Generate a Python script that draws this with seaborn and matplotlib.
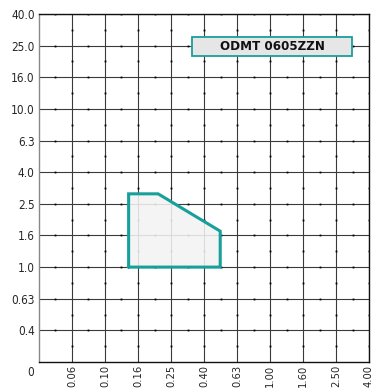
import numpy as np
import matplotlib
matplotlib.use('Agg')
import matplotlib.pyplot as plt
from matplotlib.patches import Rectangle
import seaborn as sns

# axis tick values (evenly spaced on the chart)
x_ticks = [0.06, 0.10, 0.16, 0.25, 0.40, 0.63, 1.00, 1.60, 2.50, 4.00]
x_labels = ['0.06', '0.10', '0.16', '0.25', '0.40', '0.63', '1.00', '1.60', '2.50', '4.00']
y_ticks = [0.4, 0.63, 1.0, 1.6, 2.5, 4.0, 6.3, 10.0, 16.0, 25.0, 40.0]
y_labels = ['0.4', '0.63', '1.0', '1.6', '2.5', '4.0', '6.3', '10.0', '16.0', '25.0', '40.0']

# working area of the insert
poly_x = [0.14, 0.14, 0.21, 0.50, 0.50]
poly_y = [1.0, 2.9, 2.9, 1.7, 1.0]
insert_name = 'ODMT 0605ZZN'

teal = '#17a09b'

sns.set_style('white')
plt.rcParams['font.family'] = ['DejaVu Sans']
plt.rcParams['font.stretch'] = 'condensed'


def make_scale(ticks):
    # origin ("0") one step below the first tick
    origin = ticks[0] ** 2 / ticks[1]
    pts = np.log10([origin] + list(ticks))
    idx = np.arange(len(pts), dtype=float)

    def fwd(v):
        v = np.clip(np.asarray(v, dtype=float), 1e-9, None)
        return np.interp(np.log10(v), pts, idx)

    def inv(p):
        return 10 ** np.interp(np.asarray(p, dtype=float), idx, pts)

    return origin, fwd, inv


x0, xf, xi = make_scale(x_ticks)
y0, yf, yi = make_scale(y_ticks)

fig = plt.figure(figsize=(3.74, 3.88), dpi=100)
ax = fig.add_axes([39 / 374, 1 - 362 / 388, 330 / 374, 348 / 388])
ax.set_xscale('function', functions=(xf, xi))
ax.set_yscale('function', functions=(yf, yi))
ax.set_xlim(x0, x_ticks[-1])
ax.set_ylim(y0, y_ticks[-1])

# grid
for xv in x_ticks:
    ax.axvline(xv, color='#3a3a3a', lw=0.8, zorder=1)
for yv in y_ticks:
    ax.axhline(yv, color='#3a3a3a', lw=0.8, zorder=1)

# small dots halfway between grid lines
xs_all = [x0] + x_ticks
ys_all = [y0] + y_ticks
x_mid = [np.sqrt(a * b) for a, b in zip(xs_all[:-1], xs_all[1:])]
y_mid = [np.sqrt(a * b) for a, b in zip(ys_all[:-1], ys_all[1:])]
dx, dy = [], []
for yv in y_ticks:
    for xm in x_mid:
        dx.append(xm)
        dy.append(yv)
for xv in x_ticks:
    for ym in y_mid:
        dx.append(xv)
        dy.append(ym)
ax.plot(dx, dy, 's', color='black', ms=1.3, mew=0, zorder=2)

# insert area
ax.fill(poly_x, poly_y, facecolor='#f3f3f3', alpha=0.88, edgecolor='none', zorder=3)
sns.lineplot(x=poly_x + poly_x[:1], y=poly_y + poly_y[:1], sort=False, estimator=None,
             color=teal, lw=2.2, ax=ax, zorder=4, solid_joinstyle='miter')

# name box
ax.add_patch(Rectangle((0.4636, 0.879), 0.4849, 0.055, transform=ax.transAxes,
                       facecolor='#e6e6e6', edgecolor=teal, lw=1.3, zorder=5))
ax.text(0.706, 0.9065, insert_name, transform=ax.transAxes, ha='center', va='center',
        fontsize=9.5, fontweight='bold', color='#111111', zorder=6)

ax.set_xticks(x_ticks)
ax.set_xticklabels(x_labels, rotation=90, fontsize=8)
ax.set_yticks(y_ticks)
ax.set_yticklabels(y_labels, fontsize=8.5)
ax.minorticks_off()
ax.tick_params(length=0, pad=3)
ax.tick_params(axis='x', pad=2)
ax.set_xlabel('')
ax.set_ylabel('')

for side in ['top', 'right', 'bottom']:
    ax.spines[side].set_color('#111111')
    ax.spines[side].set_linewidth(1.0)
ax.spines['left'].set_color('#888888')
ax.spines['left'].set_linewidth(1.0)

fig.text(31 / 374, 1 - 373 / 388, '0', ha='center', va='center', fontsize=8.5)

fig.savefig('out.png', dpi=100)
